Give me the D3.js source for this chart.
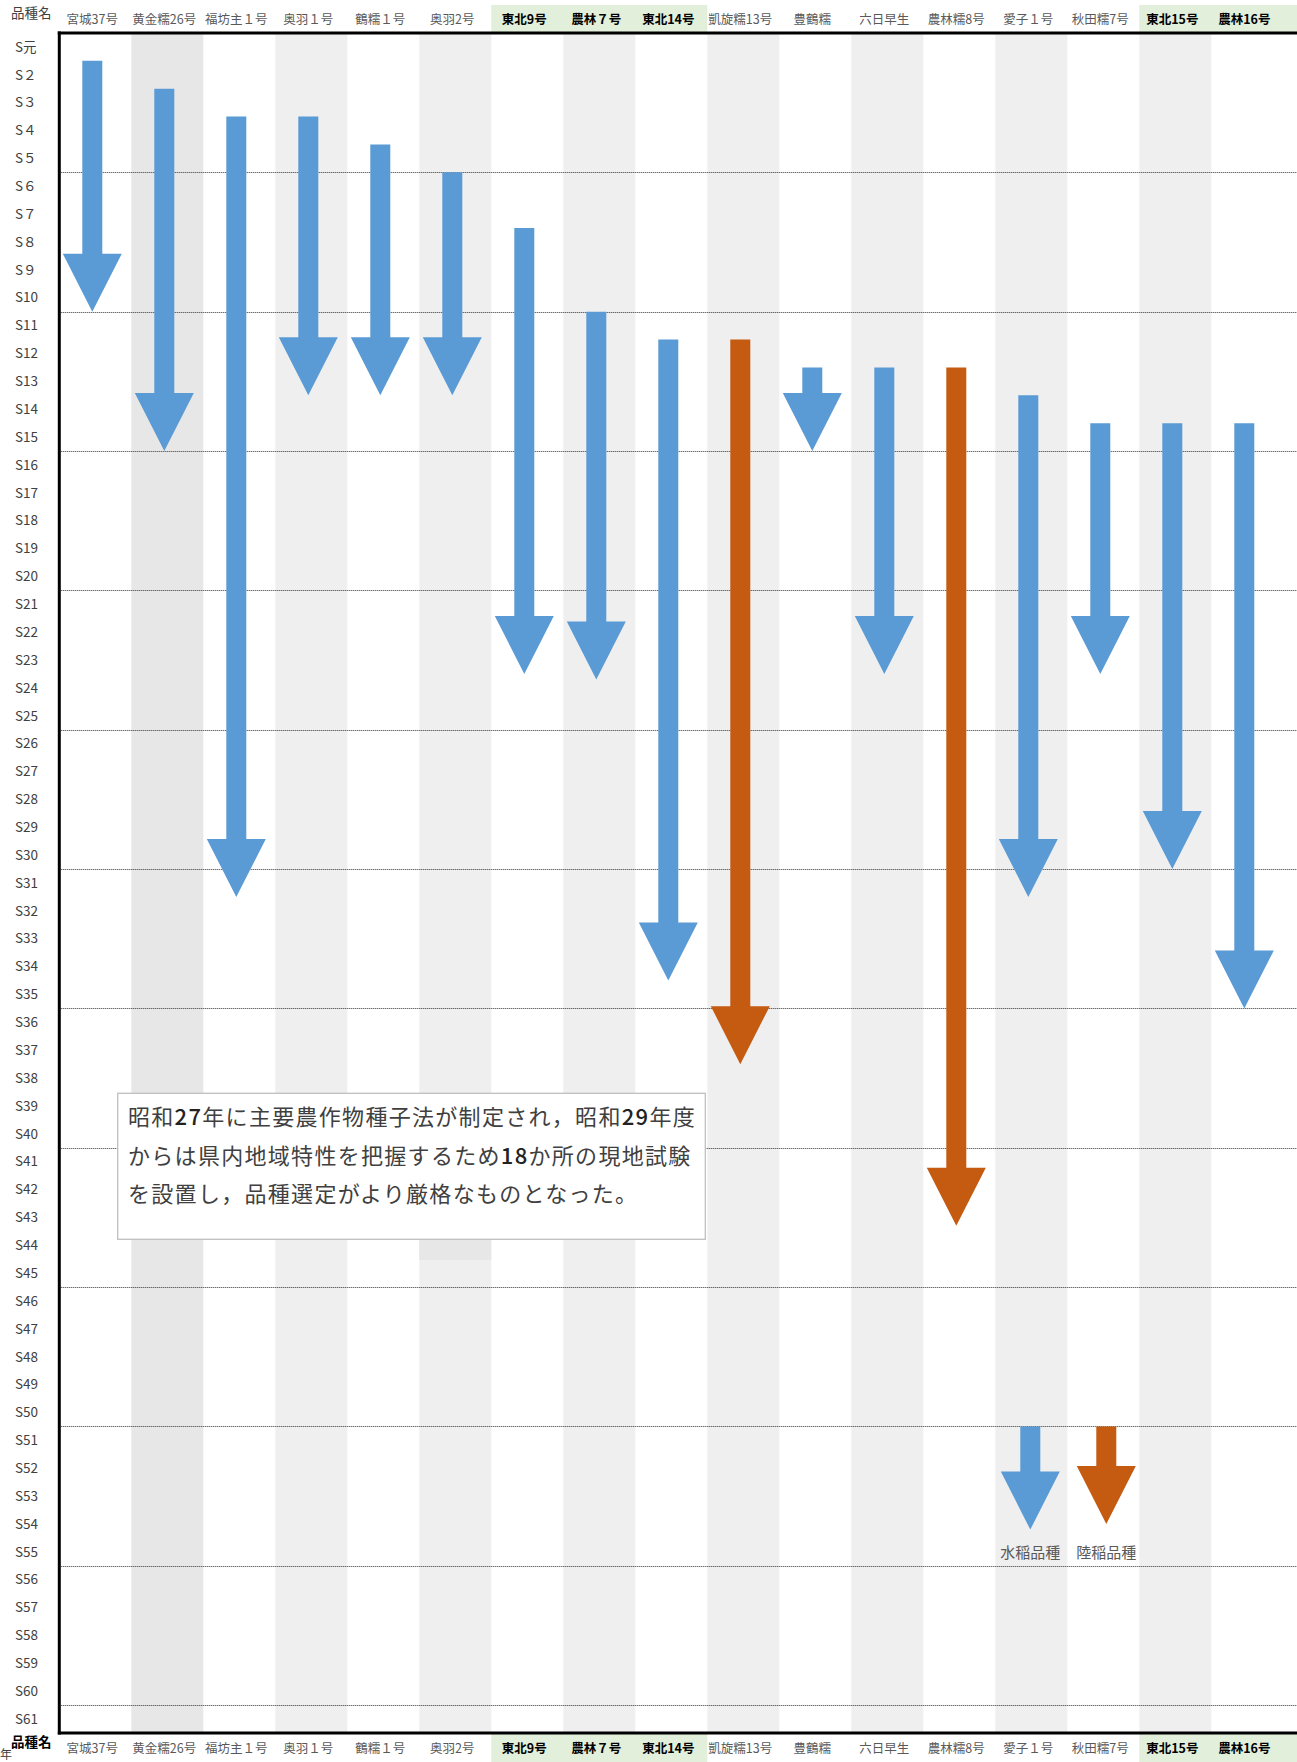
<!DOCTYPE html>
<html>
<head>
<meta charset="utf-8">
<script src="https://cdn.jsdelivr.net/npm/d3@7"></script>
<style>
  html, body { margin: 0; padding: 0; background: #fff; }
  svg { display: block; }
  text { font-family: "Noto Sans CJK JP", "Noto Sans", sans-serif; }
</style>
</head>
<body>
<script>
// Recommended rice varieties and the years (Showa) they were in use
const varieties = ["宮城37号", "黄金糯26号", "福坊主１号", "奥羽１号", "鶴糯１号", "奥羽2号",
  "東北9号", "農林７号", "東北14号", "凱旋糯13号", "豊鶴糯", "六日早生",
  "農林糯8号", "愛子１号", "秋田糯7号", "東北15号", "農林16号"];
// first year of use (Showa year)
const startYear = [2, 3, 4, 4, 5, 6, 8, 11, 12, 12, 13, 13, 13, 14, 15, 15, 15];
// last year of use (Showa year)
const endYear = [10, 15, 31, 13, 13, 13, 23, 23.2, 34, 37, 15, 23, 42.8, 31, 23, 30, 35];
// 陸稲 (upland rice) varieties; the rest are 水稲 (paddy rice)
const upland = [false, false, false, false, false, false, false, false, false, true,
  false, false, true, false, false, false, false];
// varieties shown with a highlighted header
const highlighted = ["東北9号", "農林７号", "東北14号", "東北15号", "農林16号"];

const years = d3.range(1, 62);
const yearLabels = ["S元", "S２", "S３", "S４", "S５", "S６", "S７", "S８", "S９"]
  .concat(d3.range(10, 62).map(n => "S" + n));
const gridYears = d3.range(5, 61, 5);

const legendNames = ["水稲品種", "陸稲品種"];
const legendColumn = ["愛子１号", "秋田糯7号"];
const legendFrom = [50, 50];
const legendTo = [53.7, 53.5];

const noteLines = [
  ["昭和", "27", "年に主要農作物種子法が制定され，昭和", "29", "年度"],
  ["からは県内地域特性を把握するため", "18", "か所の現地試験"],
  ["を設置し，品種選定がより厳格なものとなった。"]
];

// ---- layout ----
const W = 1297, H = 1762;
const plotLeft = 59.3, colW = 72, plotTop = 33, plotBottom = 1733;
const BLUE = "#5b9bd5", ORANGE = "#c55a11";

const svg = d3.select("body").append("svg").attr("width", W).attr("height", H);

const x = d3.scaleBand().domain(varieties)
  .range([plotLeft, plotLeft + colW * varieties.length]).padding(0);
const yBand = d3.scaleBand().domain(years).range([plotTop, plotBottom]).padding(0);
// continuous position: value n = bottom edge of Showa year n
const y = d3.scaleLinear().domain([0, 61]).range([plotTop, plotBottom]);

// ---- header backgrounds (green cells) ----
function greenRuns() {
  const runs = [];
  varieties.forEach((v, i) => {
    if (!highlighted.includes(v)) return;
    const last = runs[runs.length - 1];
    if (last && last.end === i - 1) last.end = i; else runs.push({ start: i, end: i });
  });
  return runs;
}
const runs = greenRuns();
runs.forEach(r => {
  const x0 = x(varieties[r.start]);
  let x1 = x(varieties[r.end]) + x.bandwidth();
  if (r.end === varieties.length - 1) x1 = W;
  svg.append("rect").attr("x", x0).attr("y", 5).attr("width", x1 - x0)
    .attr("height", plotTop - 5).attr("fill", "#e2efda");
  svg.append("rect").attr("x", x0).attr("y", plotBottom).attr("width", x1 - x0)
    .attr("height", H - plotBottom).attr("fill", "#e2efda");
});

// ---- column stripes ----
svg.append("g").selectAll("rect")
  .data(varieties.filter((d, i) => i % 2 === 1))
  .join("rect")
  .attr("x", d => x(d)).attr("y", plotTop)
  .attr("width", x.bandwidth()).attr("height", plotBottom - plotTop)
  .attr("fill", d => d === varieties[1] ? "#e7e7e7" : "#efefef");

// slightly darker patch in the 奥羽2号 column under the note box
svg.append("rect").attr("x", x(varieties[5])).attr("y", 1093)
  .attr("width", x.bandwidth()).attr("height", 167).attr("fill", "#e7e7e7");

// ---- dotted gridlines every 5 years ----
svg.append("g").selectAll("line").data(gridYears).join("line")
  .attr("x1", plotLeft).attr("x2", W)
  .attr("y1", d => Math.round(y(d)) + 0.5).attr("y2", d => Math.round(y(d)) + 0.5)
  .attr("stroke", "#333").attr("stroke-width", 1).attr("stroke-dasharray", "1,1");

// ---- year axis ----
const yAxis = svg.append("g").attr("transform", `translate(${plotLeft},0)`)
  .call(d3.axisLeft(yBand).tickSize(0).tickFormat(d => yearLabels[d - 1]));
yAxis.select(".domain").remove();
yAxis.selectAll("text")
  .attr("text-anchor", "start").attr("x", 15 - plotLeft).attr("dy", "0.35em")
  .attr("fill", "#404040").style("font-size", "13.5px")
  .style("font-family", "\"Noto Sans CJK JP\", sans-serif");

// ---- variety header labels (top and bottom) ----
function styleHeader(g) {
  g.select(".domain").remove();
  g.selectAll("text")
    .style("font-family", "\"Noto Sans CJK JP\", sans-serif")
    .style("font-size", "12.5px")
    .attr("dx", -3)
    .attr("fill", d => highlighted.includes(d) ? "#000" : "#595959")
    .style("font-weight", d => highlighted.includes(d) ? "bold" : "normal");
}
const topAxis = svg.append("g").attr("transform", "translate(0,24)")
  .call(d3.axisTop(x).tickSize(0).tickPadding(0));
styleHeader(topAxis);
const bottomAxis = svg.append("g").attr("transform", "translate(0,1744)")
  .call(d3.axisBottom(x).tickSize(0).tickPadding(0));
styleHeader(bottomAxis);

svg.append("text").attr("x", 11).attr("y", 18).text("品種名")
  .attr("fill", "#404040").style("font-size", "13.5px");
svg.append("text").attr("x", 11).attr("y", 1747).text("品種名")
  .attr("fill", "#000").style("font-size", "13.5px").style("font-weight", "bold");
svg.append("text").attr("x", 0).attr("y", 1759).text("年")
  .attr("fill", "#404040").style("font-size", "12px");

// ---- frame lines ----
svg.append("line").attr("x1", plotLeft - 1.5).attr("x2", W)
  .attr("y1", plotTop).attr("y2", plotTop).attr("stroke", "#000").attr("stroke-width", 3);
svg.append("line").attr("x1", plotLeft - 1.5).attr("x2", W)
  .attr("y1", plotBottom).attr("y2", plotBottom).attr("stroke", "#000").attr("stroke-width", 3);
svg.append("line").attr("x1", plotLeft).attr("x2", plotLeft)
  .attr("y1", plotTop - 1.5).attr("y2", plotBottom + 1.5).attr("stroke", "#000").attr("stroke-width", 3);

// ---- arrows ----
const shaftW = 20, headW = 59, headL = 58;
function arrowPath(cx, y0, y1) {
  const hb = y1 - headL;
  return `M${cx - shaftW / 2},${y0}L${cx + shaftW / 2},${y0}L${cx + shaftW / 2},${hb}` +
    `L${cx + headW / 2},${hb}L${cx},${y1}L${cx - headW / 2},${hb}L${cx - shaftW / 2},${hb}Z`;
}
const arrowData = varieties.map((v, i) => ({
  name: v, from: startYear[i] - 1, to: endYear[i], upland: upland[i]
}));
svg.append("g").selectAll("path").data(arrowData).join("path")
  .attr("d", d => arrowPath(x(d.name) + x.bandwidth() / 2 - 3, y(d.from), y(d.to)))
  .attr("fill", d => d.upland ? ORANGE : BLUE);

// ---- legend ----
legendNames.forEach((name, i) => {
  const cx = x(legendColumn[i]) + x.bandwidth() / 2 + (i === 0 ? -1 : 3);
  svg.append("path").attr("d", arrowPath(cx, y(legendFrom[i]), y(legendTo[i])))
    .attr("fill", i === 0 ? BLUE : ORANGE);
  svg.append("text").attr("x", cx).attr("y", 1553).attr("dy", "0.35em")
    .attr("text-anchor", "middle").attr("fill", "#595959")
    .style("font-size", "15px").text(name);
});

// ---- note box ----
svg.append("rect").attr("x", 117.7).attr("y", 1093.3).attr("width", 587.6).attr("height", 146)
  .attr("fill", "#fff").attr("stroke", "#bfbfbf").attr("stroke-width", 1.3);
const note = svg.append("g");
noteLines.forEach((parts, i) => {
  const t = note.append("text").attr("x", 128).attr("y", 1117.5 + i * 38.5)
    .attr("dy", "0.36em").attr("fill", "#404040")
    .style("font-size", "22px").style("letter-spacing", "1.3px");
  parts.forEach(p => {
    const digits = /^\d+$/.test(p);
    t.append("tspan").text(p)
      .attr("fill", digits ? "#222" : null)
      .style("font-weight", digits ? "500" : "normal");
  });
});
</script>
</body>
</html>
